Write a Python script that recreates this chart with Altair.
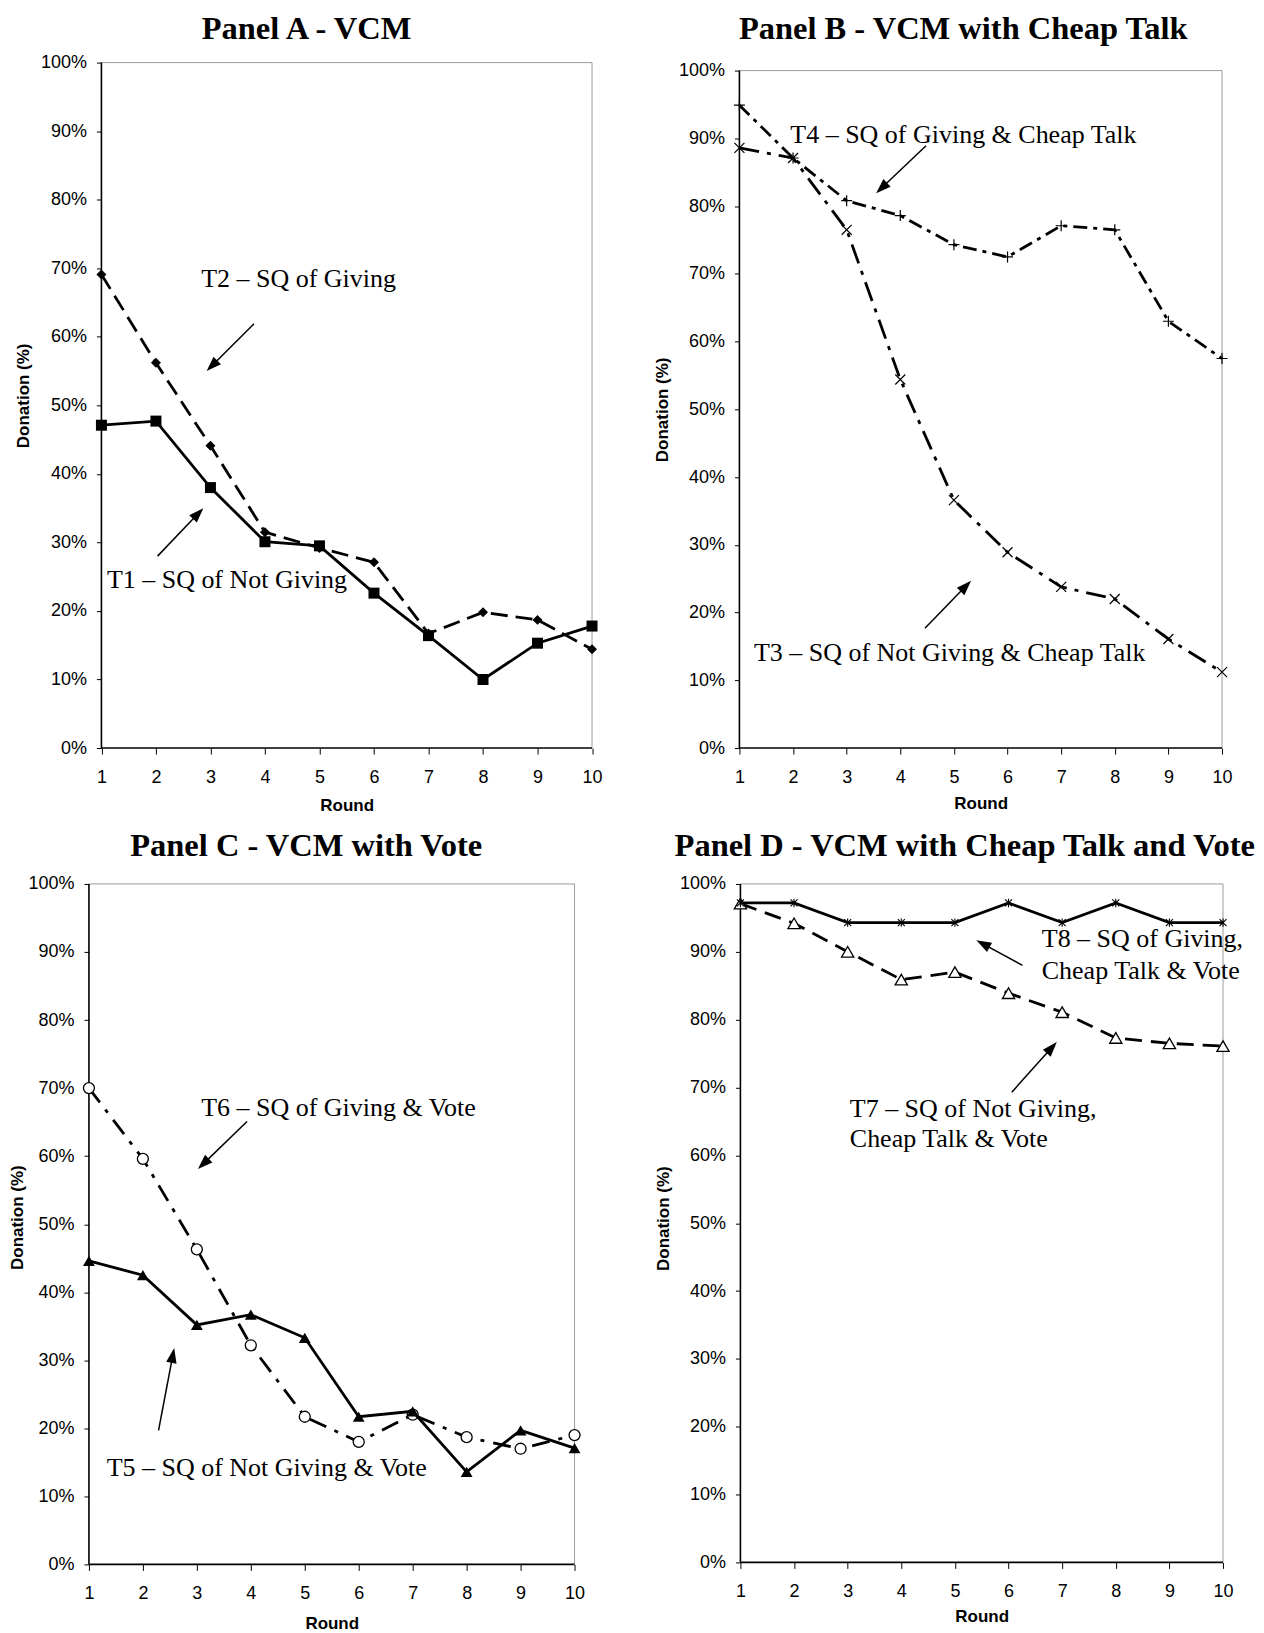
import math
import altair as alt
import pandas as pd

# ---------------- data ----------------
rounds = list(range(1, 11))

# Panel A - VCM
t1_not_giving = [47.1, 47.7, 38.0, 30.1, 29.5, 22.6, 16.4, 10.0, 15.3, 17.8]
t2_giving = [69.1, 56.2, 44.1, 31.5, 29.2, 27.1, 16.7, 19.8, 18.7, 14.4]

# Panel B - VCM with Cheap Talk
t3_not_giving_ct = [88.6, 87.1, 76.5, 54.4, 36.6, 28.9, 23.8, 22.0, 16.1, 11.2]
t4_giving_ct = [94.9, 87.1, 80.8, 78.6, 74.3, 72.5, 77.1, 76.5, 63.0, 57.5]

# Panel C - VCM with Vote
t5_not_giving_vote = [44.6, 42.5, 35.2, 36.7, 33.3, 21.7, 22.5, 13.6, 19.7, 17.1]
t6_giving_vote = [70.0, 59.6, 46.3, 32.2, 21.7, 18.0, 22.0, 18.7, 17.0, 19.0]

# Panel D - VCM with Cheap Talk and Vote
t7_not_giving_ct_vote = [97.1, 94.2, 90.0, 85.9, 87.0, 83.9, 81.1, 77.3, 76.5, 76.1]
t8_giving_ct_vote = [97.2, 97.2, 94.3, 94.3, 94.3, 97.2, 94.3, 97.2, 94.3, 94.3]

y_ticks = list(range(0, 101, 10))

# annotations (in data units: round, percent)
a_labels = ["T2 \u2013 SQ of Giving", "T1 \u2013 SQ of Not Giving"]
a_label_round = [2.83, 1.10]
a_label_pct = [68.4, 24.5]
a_arrow_from = [(3.80, 61.9), (2.03, 28.0)]
a_arrow_to = [(2.93, 55.0), (2.87, 35.0)]

b_labels = ["T4 \u2013 SQ of Giving & Cheap Talk", "T3 \u2013 SQ of Not Giving & Cheap Talk"]
b_label_round = [1.95, 1.27]
b_label_pct = [90.5, 14.0]
b_arrow_from = [(4.48, 88.9), (4.46, 17.7)]
b_arrow_to = [(3.55, 81.9), (5.32, 24.7)]

c_labels = ["T6 \u2013 SQ of Giving & Vote", "T5 \u2013 SQ of Not Giving & Vote"]
c_label_round = [3.08, 1.33]
c_label_pct = [67.0, 14.1]
c_arrow_from = [(3.93, 65.1), (2.29, 19.7)]
c_arrow_to = [(3.02, 58.1), (2.58, 31.8)]

d_labels = ["T8 \u2013 SQ of Giving,", "Cheap Talk & Vote",
            "T7 \u2013 SQ of Not Giving,", "Cheap Talk & Vote"]
d_label_round = [6.62, 6.62, 3.04, 3.04]
d_label_pct = [91.9, 87.1, 66.9, 62.4]
d_arrow_from = [(6.26, 88.0), (6.06, 69.3)]
d_arrow_to = [(5.40, 91.7), (6.90, 76.7)]

# ---------------- helpers ----------------
ARROW_HEAD = "M0,-1L0.7,1L-0.7,1Z"
PLUS = "M-1,0L1,0M0,-1L0,1"
CROSS = "M-1,-1L1,1M-1,1L1,-1"
STAR = "M-1,-1L1,1M-1,1L1,-1M0,-1.2L0,1.2"
HEAD_LEN = 15
FRAME_GRAY = "#9b9b9b"


def make_axes(inner_w, inner_h, pad_left, pad_top, y_tp, y_dy, x_tp):
    sx = inner_w / 9.0
    sy = inner_h / 100.0
    xscale = alt.Scale(domain=[1 - pad_left / sx, 10], nice=False, zero=False)
    yscale = alt.Scale(domain=[0, 100 + pad_top / sy], nice=False, zero=True)
    xaxis = alt.Axis(values=rounds, tickSize=6, labelPadding=14, titlePadding=x_tp,
                     labelFlush=False, labelOverlap=False, grid=False, domain=False,
                     titleX=pad_left + inner_w / 2.0)
    yaxis = alt.Axis(values=y_ticks, labelExpr="datum.value + '%'", tickSize=5,
                     labelPadding=10, titlePadding=y_tp, grid=False, domain=False,
                     offset=-pad_left, titleY=pad_top + inner_h / 2.0 + y_dy)

    def X(field):
        return alt.X(f"{field}:Q", scale=xscale, axis=xaxis, title="Round")

    def Y(field):
        return alt.Y(f"{field}:Q", scale=yscale, axis=yaxis, title="Donation (%)")

    return X, Y, sx, sy


def frame_layers(X, Y):
    gray = pd.DataFrame({"r0": [1, 10], "p0": [100, 0], "r1": [10, 10], "p1": [100, 100]})
    black = pd.DataFrame({"r0": [1, 1], "p0": [0, 0], "r1": [10, 1], "p1": [0, 100]})
    g = alt.Chart(gray).mark_rule(color=FRAME_GRAY, strokeWidth=1).encode(
        x=X("r0"), y=Y("p0"), x2=alt.X2("r1"), y2=alt.Y2("p1"))
    b = alt.Chart(black).mark_rule(color="black", strokeWidth=1.6).encode(
        x=X("r0"), y=Y("p0"), x2=alt.X2("r1"), y2=alt.Y2("p1"))
    return [g, b]


def series_layers(values, X, Y, dash, point_kw):
    df = pd.DataFrame({"round": rounds, "pct": values})
    base = alt.Chart(df).encode(x=X("round"), y=Y("pct"))
    line_kw = dict(color="black", strokeWidth=2.8)
    if dash:
        line_kw["strokeDash"] = dash
    line = base.mark_line(**line_kw)
    pts = base.mark_point(opacity=1, **point_kw)
    return [line, pts]


def annotation_layers(labels, lr, lp, afrom, ato, X, Y, sx, sy):
    tdf = pd.DataFrame({"label": labels, "r": lr, "p": lp})
    text = alt.Chart(tdf).mark_text(align="left", baseline="middle",
                                    font="Liberation Serif", fontSize=26,
                                    color="black").encode(
        x=X("r"), y=Y("p"), text="label:N")
    rows = []
    for (r0, p0), (r1, p1) in zip(afrom, ato):
        dx = (r1 - r0) * sx
        dy = -(p1 - p0) * sy
        L = math.hypot(dx, dy)
        ux, uy = dx / L, dy / L
        cr = r1 - ux * (HEAD_LEN / 2) / sx
        cp = p1 + uy * (HEAD_LEN / 2) / sy
        ang = math.degrees(math.atan2(ux, -uy)) % 360
        rows.append({"r0": r0, "p0": p0, "r1": cr, "p1": cp, "angle": ang})
    adf = pd.DataFrame(rows)
    rule = alt.Chart(adf).mark_rule(color="black", strokeWidth=1.5).encode(
        x=X("r0"), y=Y("p0"), x2=alt.X2("r1"), y2=alt.Y2("p1"))
    head = alt.Chart(adf).mark_point(shape=ARROW_HEAD, filled=True, color="black",
                                     opacity=1, size=HEAD_LEN * HEAD_LEN).encode(
        x=X("r1"), y=Y("p1"), angle=alt.Angle("angle:Q", scale=None))
    return [text, rule, head]


def panel(title, dx, offset, inner_w, inner_h, pad_left, pad_top, y_tp, y_dy, x_tp,
          series, labels, lr, lp, afrom, ato):
    X, Y, sx, sy = make_axes(inner_w, inner_h, pad_left, pad_top, y_tp, y_dy, x_tp)
    layers = frame_layers(X, Y)
    for vals, dash, pkw in series:
        layers += series_layers(vals, X, Y, dash, pkw)
    layers += annotation_layers(labels, lr, lp, afrom, ato, X, Y, sx, sy)
    return alt.layer(*layers).properties(
        width=inner_w + pad_left, height=inner_h + pad_top,
        title=alt.TitleParams(text=title, dx=dx, offset=offset))


filled_square = dict(shape="square", filled=True, color="black", size=121)
filled_diamond = dict(shape="diamond", filled=True, color="black", size=100)
plus_mark = dict(shape=PLUS, filled=False, color="black", size=121, strokeWidth=1.2)
cross_mark = dict(shape=CROSS, filled=False, color="black", size=100, strokeWidth=1.2)
filled_tri = dict(shape="triangle-up", filled=True, color="black", size=140)
open_circle = dict(shape="circle", filled=True, fill="white", stroke="black",
                   strokeWidth=1.3, size=121, fillOpacity=1)
open_tri = dict(shape="triangle-up", filled=True, fill="white", stroke="black",
                strokeWidth=1.3, size=150, fillOpacity=1)
star_mark = dict(shape=STAR, filled=False, color="black", size=49, strokeWidth=1.1)

panel_a = panel("Panel A - VCM", -34, 8.5, 491, 686, 12.5, 0, 7.5, -10, 11,
                [(t2_giving, [17, 8], filled_diamond),
                 (t1_not_giving, None, filled_square)],
                a_labels, a_label_round, a_label_pct, a_arrow_from, a_arrow_to)

panel_b = panel("Panel B - VCM with Cheap Talk", -17.5, 16, 483, 678, 0, 8, 7, 0, 9,
                [(t3_not_giving_ct, [20, 8, 4, 8], cross_mark),
                 (t4_giving_ct, [14, 6, 4, 6], plus_mark)],
                b_labels, b_label_round, b_label_pct, b_arrow_from, b_arrow_to)

panel_c = panel("Panel C - VCM with Vote", -25.5, 12.5, 486, 681, 0, 0, 1.5, -7, 13,
                [(t6_giving_vote, [18, 9, 4, 9], open_circle),
                 (t5_not_giving_vote, None, filled_tri)],
                c_labels, c_label_round, c_label_pct, c_arrow_from, c_arrow_to)

panel_d = panel("Panel D - VCM with Cheap Talk and Vote", -17, 12.5, 483, 679, 0, 0, 7, -5, 8,
                [(t7_not_giving_ct_vote, [17, 9], open_tri),
                 (t8_giving_ct_vote, None, star_mark)],
                d_labels, d_label_round, d_label_pct, d_arrow_from, d_arrow_to)

row1 = alt.hconcat(panel_a, panel_b, spacing=50)
row2 = alt.hconcat(panel_c, panel_d, spacing=68)

chart = alt.vconcat(row1, row2, spacing=17).properties(
    padding={"top": 4, "left": 0, "right": 0, "bottom": 0}, background="white"
).configure_view(
    strokeWidth=0
).configure_axis(
    labelFont="Liberation Sans", labelFontSize=18, labelColor="black",
    titleFont="Liberation Sans", titleFontSize=17, titleFontWeight="bold",
    titleColor="black", tickColor="black", tickWidth=1
).configure_title(
    font="Liberation Serif", fontSize=32.5, fontWeight="bold", color="black",
    anchor="middle"
)

chart.save("out.html", embed_options={"renderer": "svg", "actions": False})
